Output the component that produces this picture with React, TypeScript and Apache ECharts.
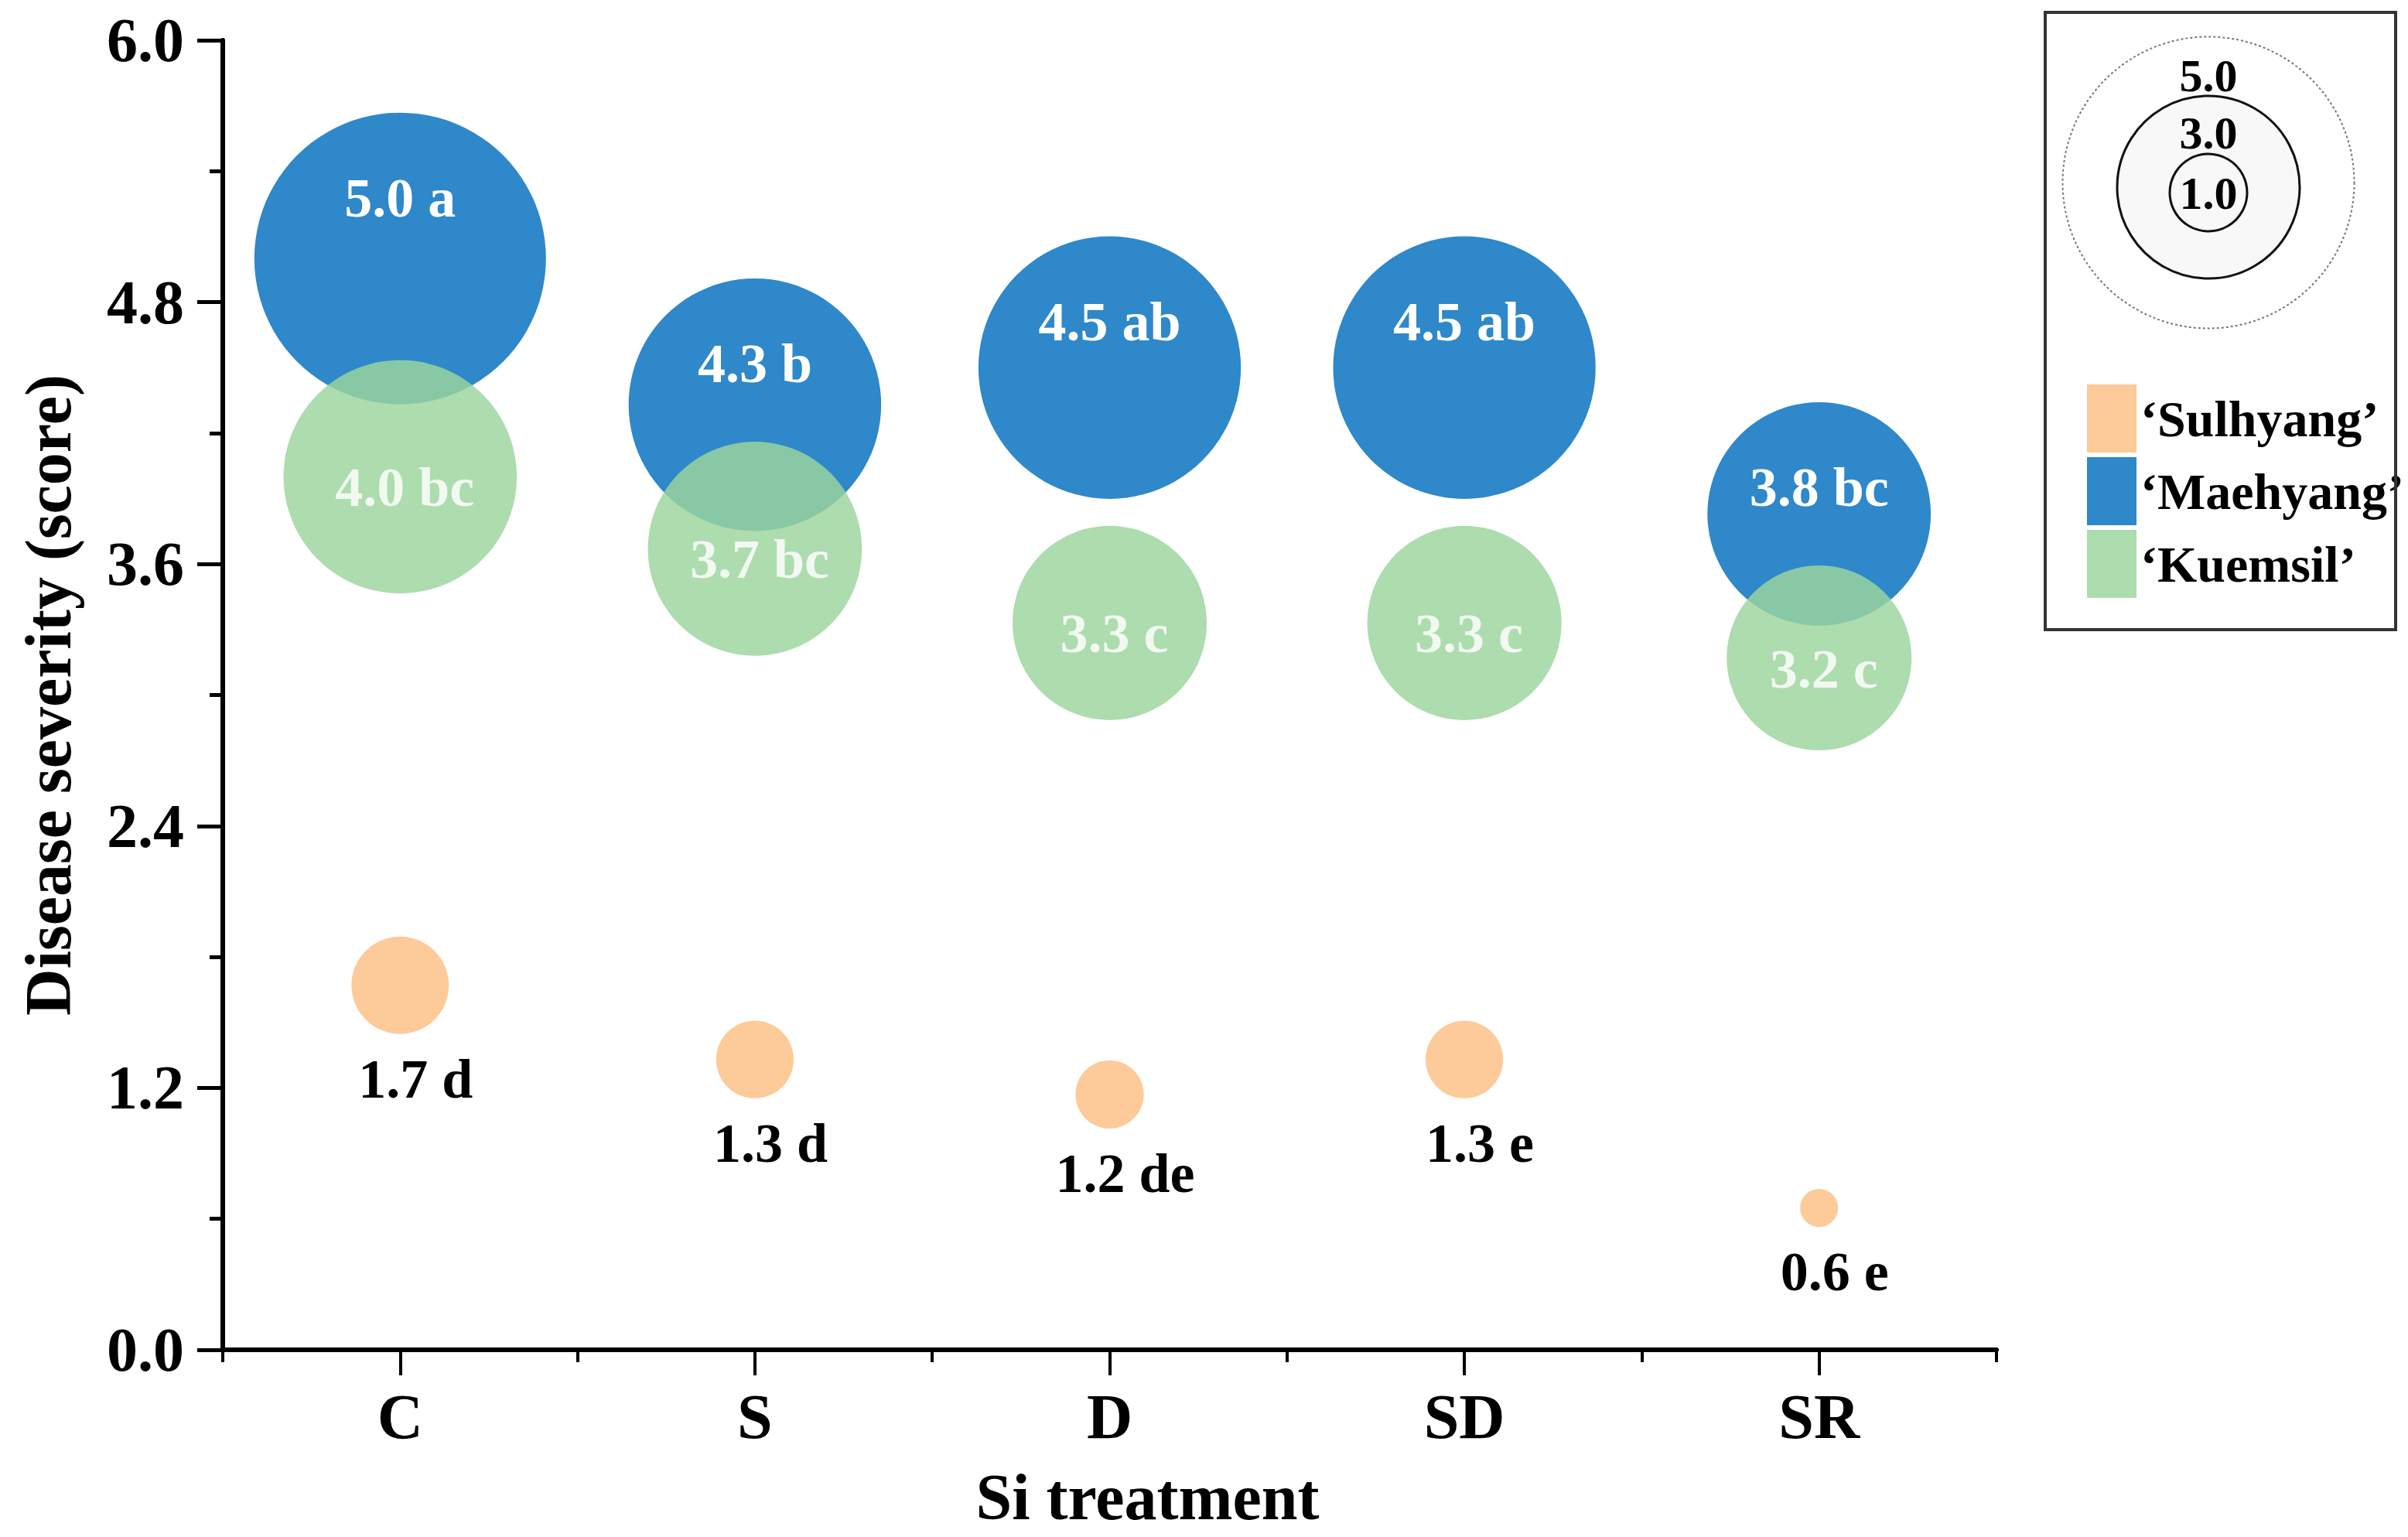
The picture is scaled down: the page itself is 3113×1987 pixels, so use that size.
import React, { useEffect, useRef } from "react";
import * as echarts from "echarts";

const categories = ["C", "S", "D", "SD", "SR"];
const seriesNames = ["\u2018Sulhyang\u2019", "\u2018Maehyang\u2019", "\u2018Kuemsil\u2019"];
const sulhyangValues = [1.67, 1.33, 1.17, 1.33, 0.65];
const maehyangValues = [5.0, 4.33, 4.5, 4.5, 3.83];
const kuemsilValues = [4.0, 3.67, 3.33, 3.33, 3.17];
const sulhyangLabels = ["1.7 d", "1.3 d", "1.2 de", "1.3 e", "0.6 e"];
const maehyangLabels = ["5.0 a", "4.3 b", "4.5 ab", "4.5 ab", "3.8 bc"];
const kuemsilLabels = ["4.0 bc", "3.7 bc", "3.3 c", "3.3 c", "3.2 c"];
const yTicks = { min: 0, max: 6, interval: 1.2 };
const sizeKeyValues = [5.0, 3.0, 1.0];

const FONT = "'Times New Roman', 'Liberation Serif', serif";
const SIZE_PER_UNIT = 75.4;
const COLORS = ["#FDCA99", "#2E88C9", "rgb(156,213,157)"];

export default function App() {
  const ref = useRef<HTMLDivElement>(null);
  useEffect(() => {
    document.body.style.margin = "0";
    document.body.style.overflow = "hidden";
    const chart = echarts.init(ref.current!, null, { renderer: "svg" });
    const sizeFn = (v: any) => (Array.isArray(v) ? v[1] : v) * SIZE_PER_UNIT;
    const keyCx = 2855;
    const option: any = {
      animation: false,
      backgroundColor: "#ffffff",
      textStyle: { fontFamily: FONT },
      grid: { left: 288, top: 52, width: 2293, height: 1693, containLabel: false },
      legend: {
        data: seriesNames,
        orient: "vertical",
        left: 2698,
        top: 497,
        padding: 0,
        itemWidth: 64,
        itemHeight: 88,
        itemGap: 6,
        icon: "rect",
        textStyle: { fontFamily: FONT, fontWeight: "bold", fontSize: 66, color: "#000" },
      },
      xAxis: [
        {
          type: "category",
          data: categories,
          boundaryGap: true,
          position: "bottom",
          axisLine: { show: true, lineStyle: { color: "#000", width: 6 } },
          axisTick: { show: true, alignWithLabel: true, length: 33, lineStyle: { color: "#000", width: 4 } },
          axisLabel: { fontFamily: FONT, fontWeight: "bold", fontSize: 82, color: "#000", margin: 45 },
          splitLine: { show: false },
          name: "Si treatment",
          nameLocation: "middle",
          nameGap: 148,
          nameTextStyle: { fontFamily: FONT, fontWeight: "bold", fontSize: 84, color: "#000", padding: [0, 0, 0, 98] },
        },
        {
          type: "category",
          data: categories,
          boundaryGap: true,
          position: "bottom",
          axisLine: { show: false },
          axisTick: { show: true, alignWithLabel: false, length: 16, lineStyle: { color: "#000", width: 4 } },
          axisLabel: { show: false },
          splitLine: { show: false },
        },
      ],
      yAxis: {
        type: "value",
        min: yTicks.min,
        max: yTicks.max,
        interval: yTicks.interval,
        axisLine: { show: true, lineStyle: { color: "#000", width: 6 } },
        axisTick: { show: true, length: 33, lineStyle: { color: "#000", width: 5 } },
        minorTick: { show: true, splitNumber: 2, length: 17, lineStyle: { color: "#000", width: 5 } },
        splitLine: { show: false },
        axisLabel: {
          fontFamily: FONT,
          fontWeight: "bold",
          fontSize: 80,
          color: "#000",
          margin: 50,
          formatter: (v: number) => v.toFixed(1),
        },
        name: "Disease severity (score)",
        nameLocation: "middle",
        nameGap: 184,
        nameRotate: 90,
        nameTextStyle: { fontFamily: FONT, fontWeight: "bold", fontSize: 84, color: "#000" },
      },
      series: [
        {
          name: seriesNames[0],
          type: "scatter",
          data: sulhyangValues,
          symbol: "circle",
          symbolSize: sizeFn,
          itemStyle: { color: COLORS[0], opacity: 1 },
          label: {
            show: true,
            position: "bottom",
            distance: 22,
            offset: [20, 0],
            formatter: (p: any) => sulhyangLabels[p.dataIndex],
            fontFamily: FONT,
            fontWeight: "bold",
            fontSize: 72,
            color: "#000",
          },
          z: 2,
        },
        {
          name: seriesNames[1],
          type: "scatter",
          data: maehyangValues,
          symbol: "circle",
          symbolSize: sizeFn,
          itemStyle: { color: COLORS[1], opacity: 1 },
          label: {
            show: true,
            position: "insideTop",
            distance: 74,
            formatter: (p: any) => maehyangLabels[p.dataIndex],
            fontFamily: FONT,
            fontWeight: "bold",
            fontSize: 72,
            color: "#fff",
          },
          z: 3,
        },
        {
          name: seriesNames[2],
          type: "scatter",
          data: kuemsilValues,
          symbol: "circle",
          symbolSize: sizeFn,
          itemStyle: { color: COLORS[2], opacity: 0.83 },
          label: {
            show: true,
            position: "inside",
            offset: [6, 14],
            formatter: (p: any) => kuemsilLabels[p.dataIndex],
            fontFamily: FONT,
            fontWeight: "bold",
            fontSize: 72,
            color: "#fff",
          },
          z: 4,
        },
      ],
      graphic: [
        {
          type: "rect",
          shape: { x: 2644, y: 16, width: 453, height: 798 },
          style: { fill: "none", stroke: "#333", lineWidth: 4 },
          z: 10,
        },
        {
          type: "circle",
          shape: { cx: keyCx, cy: 236, r: (sizeKeyValues[0] * SIZE_PER_UNIT) / 2 },
          style: { fill: "#fff", stroke: "#777", lineWidth: 2, lineDash: [3, 3] },
          z: 10,
        },
        {
          type: "circle",
          shape: { cx: keyCx, cy: 242, r: 118 },
          style: { fill: "#f8f8f8", stroke: "#111", lineWidth: 3 },
          z: 11,
        },
        {
          type: "circle",
          shape: { cx: keyCx, cy: 249, r: 50 },
          style: { fill: "#f8f8f8", stroke: "#111", lineWidth: 3 },
          z: 12,
        },
        {
          type: "text",
          x: keyCx,
          y: 98,
          style: { text: sizeKeyValues[0].toFixed(1), fontFamily: FONT, fontWeight: "bold", fontSize: 60, fill: "#000", align: "center", verticalAlign: "middle" },
          z: 13,
        },
        {
          type: "text",
          x: keyCx,
          y: 172,
          style: { text: sizeKeyValues[1].toFixed(1), fontFamily: FONT, fontWeight: "bold", fontSize: 60, fill: "#000", align: "center", verticalAlign: "middle" },
          z: 13,
        },
        {
          type: "text",
          x: keyCx,
          y: 250,
          style: { text: sizeKeyValues[2].toFixed(1), fontFamily: FONT, fontWeight: "bold", fontSize: 60, fill: "#000", align: "center", verticalAlign: "middle" },
          z: 13,
        },
      ],
    };
    chart.setOption(option);
    return () => chart.dispose();
  }, []);
  return <div ref={ref} style={{ position: "absolute", left: 0, top: 0, width: 3113, height: 1987 }} />;
}
